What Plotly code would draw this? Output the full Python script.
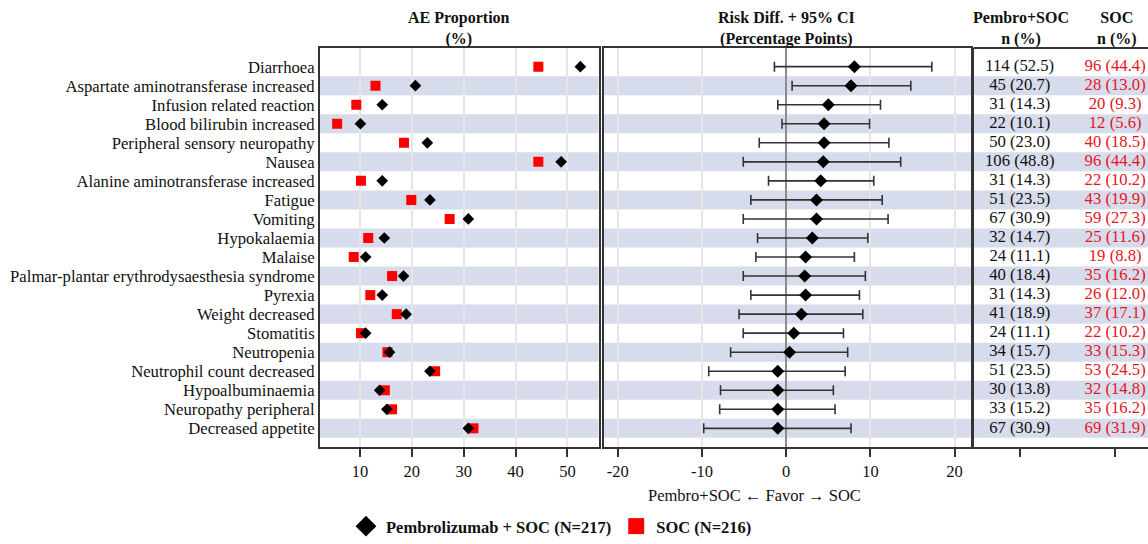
import plotly.graph_objects as go

# ---------------- data ----------------
categories = [
    "Diarrhoea", "Aspartate aminotransferase increased", "Infusion related reaction",
    "Blood bilirubin increased", "Peripheral sensory neuropathy", "Nausea",
    "Alanine aminotransferase increased", "Fatigue", "Vomiting", "Hypokalaemia",
    "Malaise", "Palmar-plantar erythrodysaesthesia syndrome", "Pyrexia",
    "Weight decreased", "Stomatitis", "Neutropenia", "Neutrophil count decreased",
    "Hypoalbuminaemia", "Neuropathy peripheral", "Decreased appetite",
]
pembro_n = [114, 45, 31, 22, 50, 106, 31, 51, 67, 32, 24, 40, 31, 41, 24, 34, 51, 30, 33, 67]
pembro_pct = [52.5, 20.7, 14.3, 10.1, 23.0, 48.8, 14.3, 23.5, 30.9, 14.7,
              11.1, 18.4, 14.3, 18.9, 11.1, 15.7, 23.5, 13.8, 15.2, 30.9]
soc_n = [96, 28, 20, 12, 40, 96, 22, 43, 59, 25, 19, 35, 26, 37, 22, 33, 53, 32, 35, 69]
soc_pct = [44.4, 13.0, 9.3, 5.6, 18.5, 44.4, 10.2, 19.9, 27.3, 11.6,
           8.8, 16.2, 12.0, 17.1, 10.2, 15.3, 24.5, 14.8, 16.2, 31.9]
risk_diff = [8.1, 7.7, 5.0, 4.5, 4.5, 4.4, 4.1, 3.6, 3.6, 3.1,
             2.3, 2.2, 2.3, 1.8, 0.9, 0.4, -1.0, -1.0, -1.0, -1.0]
ci_lower = [-1.4, 0.7, -1.0, -0.5, -3.2, -5.1, -2.1, -4.2, -5.1, -3.4,
            -3.6, -5.1, -4.2, -5.6, -5.1, -6.6, -9.2, -7.8, -7.9, -9.8]
ci_upper = [17.3, 14.8, 11.2, 9.9, 12.2, 13.6, 10.4, 11.4, 12.1, 9.7,
            8.1, 9.4, 8.7, 9.1, 6.8, 7.3, 7.0, 5.6, 5.8, 7.7]
left_ticks = [10, 20, 30, 40, 50]
mid_ticks = [-20, -10, 0, 10, 20]
legend_names = ["Pembrolizumab + SOC (N=217)", "SOC (N=216)"]

# ---------------- styling ----------------
FONT = "Liberation Serif"
W, H = 1148, 544
TOP, BOT = 48, 455
BLACK = "#111111"
RED = "#ff0000"
RED_TXT = "#e8141c"
BAND = "#d6dcec"
LINE = "#333333"
GRID = "#e6e6e6"
TXT = 16.7

def px(v):
    return v / W

dom1 = [px(320), px(598.5)]
dom2 = [px(603.5), px(971)]
dom3 = [px(973.5), 1.0]
col1, col2 = 0.265, 0.812

fig = go.Figure()

# left panel
fig.add_trace(go.Scatter(x=soc_pct, y=categories, mode="markers", xaxis="x", yaxis="y",
                         marker=dict(symbol="square", size=10, color=RED),
                         showlegend=False, hoverinfo="x+y"))
fig.add_trace(go.Scatter(x=pembro_pct, y=categories, mode="markers", xaxis="x", yaxis="y",
                         marker=dict(symbol="diamond", size=9, color="black"),
                         showlegend=False, hoverinfo="x+y"))

# middle panel
err_plus = [u - r for u, r in zip(ci_upper, risk_diff)]
err_minus = [r - l for r, l in zip(risk_diff, ci_lower)]
fig.add_trace(go.Scatter(x=risk_diff, y=categories, mode="markers", xaxis="x2", yaxis="y2",
                         marker=dict(symbol="diamond", size=10, color="black"),
                         error_x=dict(type="data", array=err_plus, arrayminus=err_minus,
                                      color=LINE, thickness=1.6, width=5),
                         showlegend=False, hoverinfo="x+y"))

# table panel
pembro_txt = [f"{n} ({p:.1f})" for n, p in zip(pembro_n, pembro_pct)]
soc_txt = [f"{n} ({p:.1f})" for n, p in zip(soc_n, soc_pct)]
fig.add_trace(go.Scatter(x=[col1] * len(categories), y=categories, mode="text", text=pembro_txt,
                         textfont=dict(family=FONT, size=TXT, color=BLACK),
                         xaxis="x3", yaxis="y3", showlegend=False, hoverinfo="skip"))
fig.add_trace(go.Scatter(x=[col2] * len(categories), y=categories, mode="text", text=soc_txt,
                         textfont=dict(family=FONT, size=TXT, color=RED_TXT),
                         xaxis="x3", yaxis="y3", showlegend=False, hoverinfo="skip"))

# legend-only traces
fig.add_trace(go.Scatter(x=[None], y=[None], mode="markers",
                         name="<b>" + legend_names[0] + "</b>",
                         marker=dict(symbol="diamond", size=16, color="black"), xaxis="x", yaxis="y"))
fig.add_trace(go.Scatter(x=[None], y=[None], mode="markers",
                         name="<b>" + legend_names[1] + "</b>",
                         marker=dict(symbol="square", size=16, color=RED), xaxis="x", yaxis="y"))

# alternating bands
shapes = []
for i in range(len(categories)):
    if i % 2 == 1:
        for xr, yr in (("x domain", "y"), ("x2 domain", "y2"), ("x3 domain", "y3")):
            shapes.append(dict(type="rect", xref=xr, yref=yr, x0=0, x1=1,
                               y0=i - 0.5, y1=i + 0.5, fillcolor=BAND, line=dict(width=0),
                               layer="below"))
# top border of table panel
shapes.append(dict(type="line", xref="x3 domain", yref="paper", x0=0, x1=1, y0=1, y1=1,
                   line=dict(color=LINE, width=2)))

n = len(categories)
yrange = [n - 1 + 0.98, -0.98]
yax_common = dict(type="category", categoryorder="array", categoryarray=categories,
                  range=yrange, domain=[0, 1], showgrid=False, zeroline=False,
                  tickmode="array", tickvals=categories, ticktext=categories,
                  showline=True, linecolor=LINE, linewidth=2, ticks="", automargin=False)
xax_common = dict(showline=True, linecolor=LINE, linewidth=2, ticks="outside", ticklen=8,
                  tickwidth=1.5, tickcolor=LINE, automargin=False,
                  tickfont=dict(family=FONT, size=16.5, color=BLACK))

fig.update_layout(
    width=W, height=H,
    margin=dict(l=0, r=0, t=TOP, b=H - BOT),
    paper_bgcolor="white", plot_bgcolor="white",
    font=dict(family=FONT, size=16, color=BLACK),
    shapes=shapes,
    xaxis=dict(domain=dom1, anchor="y", range=[2.3, 56.0], tickvals=left_ticks,
               ticktext=[str(v) for v in left_ticks],
               showgrid=True, gridcolor=GRID, gridwidth=1.5, zeroline=False,
               mirror=True, **xax_common),
    yaxis=dict(anchor="x", mirror=True, showticklabels=True,
               tickfont=dict(family=FONT, size=TXT, color=BLACK), **yax_common),
    xaxis2=dict(domain=dom2, anchor="y2", range=[-21.7, 21.95], tickvals=mid_ticks,
                ticktext=[str(v) for v in mid_ticks],
                showgrid=True, gridcolor=GRID, gridwidth=1.5,
                zeroline=True, zerolinecolor="#8c8c8c", zerolinewidth=1.5,
                mirror=True, **xax_common),
    yaxis2=dict(anchor="x2", matches="y", mirror=True, showticklabels=False, **yax_common),
    xaxis3=dict(domain=dom3, anchor="y3", range=[0, 1], tickvals=[col1, col2],
                ticktext=["", ""], showgrid=False, zeroline=False, mirror=False,
                **xax_common),
    yaxis3=dict(anchor="x3", matches="y", mirror=False, showticklabels=False, **yax_common),
    legend=dict(orientation="h", x=px(346), xanchor="left", y=(BOT - 536) / (BOT - TOP),
                yanchor="middle", font=dict(family=FONT, size=16.5, color=BLACK),
                bgcolor="rgba(0,0,0,0)", itemclick=False),
    showlegend=True,
)

def ypaper(pix):
    return (BOT - pix) / (BOT - TOP)

ann = [
    dict(text="<b>AE Proportion<br>(%)</b>", x=px(459), y=ypaper(28.5), size=16),
    dict(text="<b>Risk Diff. + 95% CI<br>(Percentage Points)</b>", x=px(786), y=ypaper(28.5), size=16),
    dict(text="<b>Pembro+SOC<br>n (%)</b>", x=px(1021), y=ypaper(28.5), size=16),
    dict(text="<b>SOC<br>n (%)</b>", x=px(1117), y=ypaper(28.5), size=16),
    dict(text="Pembro+SOC \u2190 Favor \u2192 SOC", x=px(754), y=ypaper(504), size=16.5),
]
for a in ann:
    size = a.pop("size")
    fig.add_annotation(xref="paper", yref="paper", xanchor="center", yanchor="middle",
                       showarrow=False, font=dict(family=FONT, size=size, color=BLACK), **a)

fig.write_html("out.html", config={"displayModeBar": False},
               post_script="document.body.style.margin='0px';")
